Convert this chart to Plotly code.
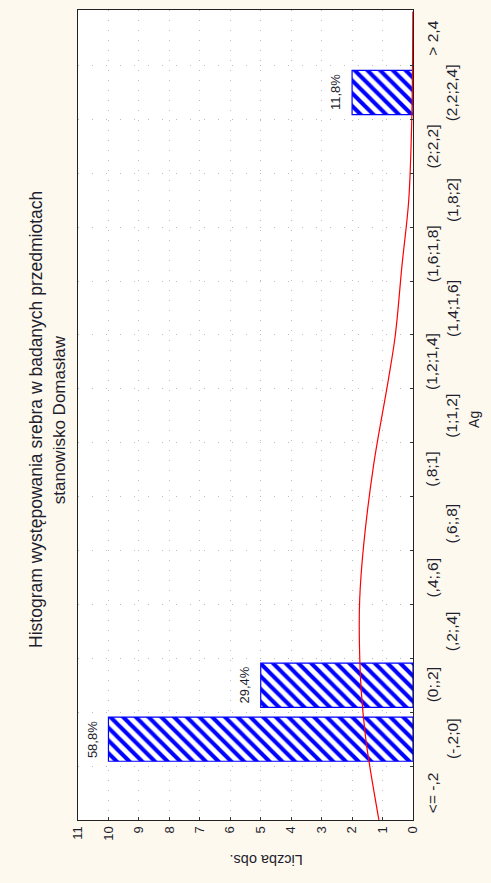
import plotly.graph_objects as go

# ---- data ----
categories = ["<= -,2", "(-,2;0]", "(0;,2]", "(,2;,4]", "(,4;,6]", "(,6;,8]", "(,8;1]",
              "(1;1,2]", "(1,2;1,4]", "(1,4;1,6]", "(1,6;1,8]", "(1,8;2]", "(2;2,2]",
              "(2,2;2,4]", "> 2,4"]
counts = [0, 10, 5, 0, 0, 0, 0, 0, 0, 0, 0, 0, 0, 2, 0]

# fitted normal curve (category position, expected count)
curve_pos = [-0.5, 0.5, 1.0, 1.9, 2.8, 3.6, 4.6, 6.1, 7.7, 8.5, 9.8, 11.0, 12.5, 13.5, 14.5]
curve_val = [1.12, 1.42, 1.55, 1.70, 1.76, 1.75, 1.62, 1.29, 0.80, 0.58, 0.36, 0.14, 0.04, 0.015, 0.005]

value_ticks = list(range(0, 12))

title_lines = ["Histogram występowania srebra w badanych przedmiotach", "stanowisko Domasław"]
x_title = "Ag"
y_title = "Liczba obs."

FONT = "Arial, Liberation Sans, sans-serif"
TXT = "#1e1e2e"
positions = list(range(len(categories)))
total = sum(counts)

fig = go.Figure()
fig.add_trace(go.Bar(
    x=counts, y=positions, orientation="h", width=0.82,
    marker=dict(color="white",
                line=dict(color="#0000FF", width=[1.2 if c > 0 else 0 for c in counts]),
                pattern=dict(shape="\\", fgcolor="#0000FF", bgcolor="white", fgopacity=1,
                             size=9, solidity=0.45)),
    showlegend=False, hoverinfo="skip",
))
fig.add_trace(go.Scatter(
    x=curve_val, y=curve_pos, mode="lines", line=dict(color="#FF0000", width=1.2, shape="spline"),
    showlegend=False, hoverinfo="skip",
))

annotations = []
# percentage labels
for p, c in zip(positions, counts):
    if c > 0:
        pct = f"{100 * c / total:.1f}".replace(".", ",") + "%"
        annotations.append(dict(x=c, y=p, xref="x", yref="y", text=pct, showarrow=False,
                                textangle=-90, xanchor="right", yanchor="middle", xshift=-7,
                                font=dict(family=FONT, size=13, color=TXT)))
# staggered category labels
for p, lab in zip(positions, categories):
    xp = 1.057 if p % 2 == 0 else 1.116
    annotations.append(dict(x=xp, y=p, xref="paper", yref="y", text=lab, showarrow=False,
                            textangle=-90, xanchor="center", yanchor="middle",
                            font=dict(family=FONT, size=15.5, color=TXT)))
# axis titles
annotations.append(dict(x=1.212, y=0.494, xref="paper", yref="paper", text=x_title, showarrow=False,
                        textangle=-90, font=dict(family=FONT, size=14, color=TXT)))
annotations.append(dict(x=0.561, y=-0.061, xref="paper", yref="paper", text=y_title, showarrow=False,
                        textangle=180, font=dict(family=FONT, size=14.5, color=TXT)))
# title lines
annotations.append(dict(x=-0.161, y=0.494, xref="paper", yref="paper", text=title_lines[0],
                        showarrow=False, textangle=-90,
                        font=dict(family=FONT, size=17.5, color=TXT)))
annotations.append(dict(x=-0.087, y=0.494, xref="paper", yref="paper", text=title_lines[1],
                        showarrow=False, textangle=-90,
                        font=dict(family=FONT, size=17, color=TXT)))

fig.update_layout(
    width=491, height=883,
    margin=dict(l=78, r=78, t=10, b=63),
    paper_bgcolor="#FDF9EE", plot_bgcolor="white",
    annotations=annotations,
    xaxis=dict(range=[11, 0], tickvals=value_ticks, ticktext=[str(v) for v in value_ticks],
               tickangle=-90, ticks="inside", ticklen=3, tickcolor="#333",
               showline=True, linecolor="#222", linewidth=1.2, mirror=True,
               showgrid=True, gridcolor="#BDBDBD", gridwidth=1, griddash="1px,9px",
               zeroline=False, tickfont=dict(family=FONT, size=13, color=TXT)),
    yaxis=dict(range=[-0.5, 14.53], tickvals=[p + 0.5 for p in positions[:-1]],
               showticklabels=False, ticks="inside", ticklen=3, tickcolor="#333",
               side="right",
               showline=True, linecolor="#222", linewidth=1.2, mirror=True,
               showgrid=True, gridcolor="#BDBDBD", gridwidth=1, griddash="1px,13px",
               zeroline=False),
)

fig.write_html("out.html", config={"displayModeBar": False},
               post_script="document.body.style.margin='0';document.body.style.overflow='hidden';")
